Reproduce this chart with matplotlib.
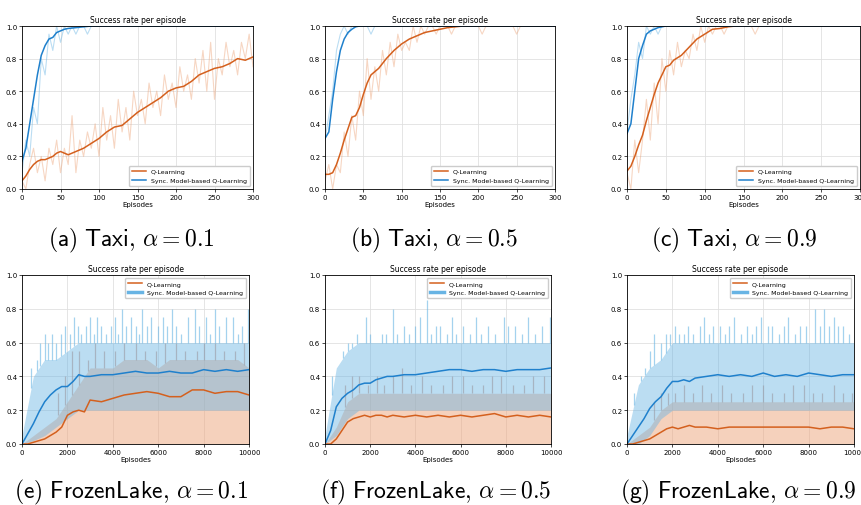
import matplotlib.pyplot as plt
import numpy as np

plt.rcParams['font.family'] = 'DejaVu Sans'
plt.rcParams['mathtext.fontset'] = 'cm'

# ---- Taxi data (episodes 0..300) ----
taxi_ep = [0, 5, 10, 15, 20, 25, 30, 35, 40, 45, 50, 55, 60, 70, 80, 90, 100, 110, 120, 130, 140,
           150, 160, 170, 180, 190, 200, 210, 220, 230, 240, 250, 260, 270, 280, 290, 300]
q_a = [0.05, 0.08, 0.12, 0.15, 0.17, 0.18, 0.18, 0.19, 0.20, 0.22, 0.23, 0.22, 0.21, 0.23, 0.25,
       0.28, 0.31, 0.35, 0.38, 0.39, 0.43, 0.47, 0.50, 0.53, 0.56, 0.60, 0.62, 0.63, 0.66, 0.70,
       0.72, 0.74, 0.75, 0.77, 0.80, 0.79, 0.81]
s_a = [0.17, 0.25, 0.40, 0.55, 0.70, 0.82, 0.88, 0.92, 0.93, 0.96, 0.97, 0.98, 0.985, 0.99, 0.995,
       1.0, 1.0, 1.0, 1.0, 1.0, 1.0, 1.0, 1.0, 1.0, 1.0, 1.0, 1.0, 1.0, 1.0, 1.0, 1.0, 1.0, 1.0,
       1.0, 1.0, 1.0, 1.0]
q_b = [0.09, 0.09, 0.10, 0.15, 0.22, 0.30, 0.37, 0.44, 0.45, 0.50, 0.58, 0.65, 0.70, 0.74, 0.80,
       0.85, 0.89, 0.92, 0.94, 0.96, 0.97, 0.98, 0.99, 0.995, 1.0, 1.0, 1.0, 1.0, 1.0, 1.0, 1.0,
       1.0, 1.0, 1.0, 1.0, 1.0, 1.0]
s_b = [0.31, 0.35, 0.55, 0.72, 0.85, 0.92, 0.96, 0.98, 0.995, 1.0, 1.0, 1.0, 1.0, 1.0, 1.0, 1.0,
       1.0, 1.0, 1.0, 1.0, 1.0, 1.0, 1.0, 1.0, 1.0, 1.0, 1.0, 1.0, 1.0, 1.0, 1.0, 1.0, 1.0, 1.0,
       1.0, 1.0, 1.0]
q_c = [0.11, 0.14, 0.20, 0.27, 0.33, 0.42, 0.50, 0.58, 0.65, 0.70, 0.75, 0.76, 0.79, 0.82, 0.87,
       0.92, 0.95, 0.98, 0.985, 0.995, 1.0, 1.0, 1.0, 1.0, 1.0, 1.0, 1.0, 1.0, 1.0, 1.0, 1.0, 1.0,
       1.0, 1.0, 1.0, 1.0, 1.0]
s_c = [0.34, 0.40, 0.60, 0.80, 0.88, 0.95, 0.97, 0.98, 0.99, 0.995, 1.0, 1.0, 1.0, 1.0, 1.0, 1.0,
       1.0, 1.0, 1.0, 1.0, 1.0, 1.0, 1.0, 1.0, 1.0, 1.0, 1.0, 1.0, 1.0, 1.0, 1.0, 1.0, 1.0, 1.0,
       1.0, 1.0, 1.0]

# raw (unsmoothed) rates, one value every 5 episodes
q_raw_a = [0.05, 0.0, 0.15, 0.25, 0.1, 0.2, 0.05, 0.25, 0.15, 0.3, 0.1, 0.25, 0.15, 0.45, 0.1, 0.3,
           0.2, 0.35, 0.25, 0.4, 0.2, 0.5, 0.3, 0.45, 0.25, 0.55, 0.35, 0.5, 0.3, 0.6, 0.45, 0.55,
           0.4, 0.65, 0.5, 0.6, 0.45, 0.7, 0.55, 0.65, 0.5, 0.75, 0.6, 0.7, 0.55, 0.8, 0.65, 0.85,
           0.6, 0.9, 0.55, 0.8, 0.7, 0.9, 0.75, 0.85, 0.7, 0.9, 0.8, 0.95, 0.75]
s_raw_a = [0.1, 0.3, 0.2, 0.5, 0.4, 0.8, 0.7, 0.95, 0.85, 1.0, 0.9, 1.0, 0.95, 1.0, 0.95, 1.0,
           1.0, 0.95, 1.0, 1.0] + [1.0] * 41
q_raw_b = [0.05, 0.15, 0.0, 0.15, 0.1, 0.35, 0.2, 0.45, 0.3, 0.6, 0.45, 0.8, 0.55, 0.75, 0.6, 0.85,
           0.7, 0.9, 0.75, 0.95, 0.85, 0.9, 0.85, 1.0, 0.9, 1.0, 0.95, 1.0, 1.0, 0.95, 1.0, 1.0,
           1.0, 0.95, 1.0, 1.0, 1.0, 1.0, 1.0, 1.0, 1.0, 0.95, 1.0, 1.0, 1.0, 1.0, 1.0, 1.0,
           1.0, 1.0, 0.95, 1.0, 1.0, 1.0, 1.0, 1.0, 1.0, 1.0, 1.0, 1.0, 1.0]
s_raw_b = [0.3, 0.45, 0.6, 0.85, 0.95, 1.0, 0.95, 1.0, 1.0, 1.0, 1.0, 1.0, 0.95] + [1.0] * 48
q_raw_c = [0.1, 0.0, 0.3, 0.1, 0.3, 0.55, 0.3, 0.65, 0.4, 0.8, 0.6, 0.85, 0.7, 0.9, 0.75, 0.85,
           0.8, 0.95, 0.85, 1.0, 0.9, 1.0, 0.95, 1.0, 1.0, 0.95, 1.0, 1.0, 1.0, 1.0, 1.0, 1.0,
           1.0, 0.95] + [1.0] * 27
s_raw_c = [0.35, 0.55, 0.7, 0.9, 0.8, 1.0, 0.95, 1.0, 0.95, 1.0, 1.0, 1.0] + [1.0] * 49

# ---- FrozenLake data (episodes 0..10000) ----
fl_ep = [0, 250, 500, 750, 1000, 1250, 1500, 1750, 2000, 2250, 2500, 2750, 3000, 3500, 4000,
         4500, 5000, 5500, 6000, 6500, 7000, 7500, 8000, 8500, 9000, 9500, 10000]
q_e = [0.0, 0.0, 0.01, 0.02, 0.03, 0.05, 0.07, 0.10, 0.17, 0.19, 0.20, 0.19, 0.26, 0.25, 0.27,
       0.29, 0.30, 0.31, 0.30, 0.28, 0.28, 0.32, 0.32, 0.30, 0.31, 0.31, 0.29]
s_e = [0.0, 0.06, 0.12, 0.19, 0.25, 0.29, 0.32, 0.34, 0.34, 0.37, 0.41, 0.40, 0.40, 0.41, 0.41,
       0.42, 0.43, 0.42, 0.42, 0.43, 0.42, 0.42, 0.44, 0.43, 0.44, 0.43, 0.44]
q_f = [0.0, 0.0, 0.03, 0.08, 0.13, 0.15, 0.16, 0.17, 0.16, 0.17, 0.17, 0.16, 0.17, 0.16, 0.17,
       0.16, 0.17, 0.16, 0.17, 0.16, 0.17, 0.18, 0.16, 0.17, 0.16, 0.17, 0.16]
s_f = [0.0, 0.08, 0.22, 0.27, 0.30, 0.32, 0.35, 0.36, 0.36, 0.38, 0.39, 0.40, 0.40, 0.41, 0.41,
       0.42, 0.43, 0.44, 0.44, 0.43, 0.44, 0.44, 0.43, 0.44, 0.44, 0.44, 0.45]
q_g = [0.0, 0.0, 0.01, 0.02, 0.03, 0.05, 0.07, 0.09, 0.10, 0.09, 0.10, 0.11, 0.10, 0.10, 0.09,
       0.10, 0.10, 0.10, 0.10, 0.10, 0.10, 0.10, 0.10, 0.09, 0.10, 0.10, 0.09]
s_g = [0.0, 0.05, 0.10, 0.15, 0.21, 0.25, 0.28, 0.33, 0.37, 0.37, 0.38, 0.37, 0.39, 0.40, 0.41,
       0.40, 0.41, 0.40, 0.42, 0.40, 0.41, 0.40, 0.42, 0.41, 0.40, 0.41, 0.41]

# dense spread of the noisy per-episode rates, one value every 500 episodes
s_lo_e = [0.0, 0.02, 0.05, 0.1, 0.15, 0.2, 0.2, 0.2, 0.2, 0.2, 0.2, 0.2, 0.2, 0.2, 0.2, 0.2,
          0.2, 0.2, 0.2, 0.2, 0.2]
s_hi_e = [0.05, 0.4, 0.5, 0.5, 0.55, 0.6, 0.6, 0.6, 0.6, 0.6, 0.6, 0.6, 0.6, 0.6, 0.6, 0.6,
          0.6, 0.6, 0.6, 0.6, 0.6]
q_hi_e = [0.0, 0.05, 0.1, 0.15, 0.25, 0.35, 0.45, 0.45, 0.45, 0.5, 0.5, 0.5, 0.45, 0.5, 0.5,
          0.5, 0.5, 0.5, 0.5, 0.5, 0.45]
s_lo_f = [0.0, 0.05, 0.15, 0.2, 0.2, 0.2, 0.2, 0.2, 0.2, 0.2, 0.2, 0.2, 0.2, 0.2, 0.2, 0.2,
          0.2, 0.2, 0.2, 0.2, 0.2]
s_hi_f = [0.05, 0.45, 0.55, 0.6, 0.6, 0.6, 0.6, 0.6, 0.6, 0.6, 0.6, 0.6, 0.6, 0.6, 0.6, 0.6,
          0.6, 0.6, 0.6, 0.6, 0.6]
q_hi_f = [0.0, 0.1, 0.25, 0.3, 0.3, 0.3, 0.3, 0.3, 0.3, 0.3, 0.3, 0.3, 0.3, 0.3, 0.3, 0.3,
          0.3, 0.3, 0.3, 0.3, 0.3]
s_lo_g = [0.0, 0.0, 0.05, 0.15, 0.2, 0.2, 0.2, 0.2, 0.2, 0.2, 0.2, 0.2, 0.2, 0.2, 0.2, 0.2,
          0.2, 0.2, 0.2, 0.2, 0.2]
s_hi_g = [0.05, 0.35, 0.45, 0.5, 0.6, 0.6, 0.6, 0.6, 0.6, 0.6, 0.6, 0.6, 0.6, 0.6, 0.6, 0.6,
          0.6, 0.6, 0.6, 0.6, 0.6]
q_hi_g = [0.0, 0.05, 0.1, 0.2, 0.25, 0.25, 0.25, 0.25, 0.25, 0.25, 0.25, 0.25, 0.25, 0.25, 0.25,
          0.25, 0.25, 0.25, 0.25, 0.25, 0.25]

# isolated peaks above the dense spread: (episode, peak)
s_spk_e = [(400, 0.45), (650, 0.5), (800, 0.6), (1000, 0.65), (1150, 0.6), (1300, 0.65),
           (1500, 0.6), (1700, 0.65), (1900, 0.7), (2100, 0.65), (2300, 0.75), (2450, 0.7),
           (2600, 0.65), (2800, 0.7), (3000, 0.75), (3150, 0.65), (3300, 0.75), (3500, 0.7),
           (3700, 0.65), (3900, 0.7), (4100, 0.75), (4250, 0.65), (4400, 0.8), (4600, 0.7),
           (4800, 0.75), (5000, 0.7), (5150, 0.65), (5300, 0.8), (5500, 0.7), (5700, 0.75),
           (6000, 0.7), (6200, 0.75), (6400, 0.7), (6600, 0.8), (6800, 0.7), (7000, 0.65),
           (7300, 0.75), (7600, 0.8), (7800, 0.7), (8100, 0.75), (8300, 0.65), (8500, 0.8),
           (8700, 0.7), (9000, 0.75), (9300, 0.75), (9500, 0.65), (9700, 0.7), (9950, 0.8)]
q_spk_e = [(1600, 0.3), (1900, 0.4), (2200, 0.55), (2500, 0.55), (2900, 0.5), (3200, 0.6),
           (3600, 0.55), (4100, 0.55), (4500, 0.6), (5000, 0.6), (5400, 0.55), (5900, 0.55),
           (6300, 0.6), (6800, 0.6), (7200, 0.55), (7700, 0.55), (8000, 0.6), (8500, 0.6),
           (8900, 0.55), (9400, 0.55), (9800, 0.6)]
s_spk_f = [(300, 0.4), (500, 0.45), (800, 0.55), (1000, 0.6), (1200, 0.6), (1400, 0.65),
           (1600, 0.6), (1800, 0.75), (2000, 0.65), (2200, 0.6), (2500, 0.65), (2700, 0.65),
           (3000, 0.8), (3200, 0.65), (3500, 0.7), (3700, 0.65), (4000, 0.7), (4200, 0.75),
           (4500, 0.85), (4700, 0.65), (4900, 0.7), (5100, 0.7), (5400, 0.65), (5600, 0.75),
           (5800, 0.65), (6100, 0.7), (6400, 0.65), (6700, 0.75), (6900, 0.65), (7200, 0.7),
           (7500, 0.65), (7900, 0.75), (8100, 0.7), (8400, 0.7), (8700, 0.65), (9000, 0.75),
           (9300, 0.65), (9600, 0.7), (9950, 0.75)]
q_spk_f = [(900, 0.35), (1200, 0.4), (1500, 0.4), (1900, 0.35), (2300, 0.4), (2600, 0.35),
           (3000, 0.4), (3400, 0.45), (3800, 0.35), (4300, 0.4), (4700, 0.35), (5200, 0.35),
           (5600, 0.4), (6100, 0.4), (6500, 0.35), (7000, 0.35), (7400, 0.4), (7800, 0.4),
           (8300, 0.35), (8800, 0.35), (9200, 0.4), (9700, 0.4)]
s_spk_g = [(300, 0.3), (600, 0.4), (800, 0.45), (1000, 0.55), (1200, 0.65), (1500, 0.6),
           (1700, 0.65), (1900, 0.65), (2100, 0.7), (2300, 0.65), (2500, 0.65), (2700, 0.7),
           (2900, 0.65), (3200, 0.7), (3400, 0.75), (3600, 0.65), (3800, 0.7), (4100, 0.7),
           (4300, 0.65), (4500, 0.7), (4700, 0.75), (5000, 0.65), (5300, 0.7), (5500, 0.65),
           (5700, 0.7), (5900, 0.75), (6200, 0.7), (6400, 0.7), (6700, 0.65), (6900, 0.7),
           (7100, 0.75), (7400, 0.65), (7600, 0.7), (7900, 0.7), (8300, 0.8), (8500, 0.7),
           (8700, 0.8), (8900, 0.7), (9100, 0.75), (9300, 0.7), (9500, 0.7), (9800, 0.65)]
q_spk_g = [(1200, 0.25), (1500, 0.3), (1800, 0.3), (2100, 0.3), (2500, 0.35), (2900, 0.3),
           (3300, 0.35), (3700, 0.3), (4200, 0.35), (4600, 0.3), (5100, 0.3), (5500, 0.35),
           (6000, 0.35), (6400, 0.3), (6900, 0.3), (7300, 0.35), (7800, 0.35), (8200, 0.3),
           (8600, 0.3), (9100, 0.35), (9500, 0.3), (9900, 0.3)]

captions_top = [r"$\mathsf{(a)\ Taxi,}\,\alpha = 0.1$", r"$\mathsf{(b)\ Taxi,}\,\alpha = 0.5$",
                r"$\mathsf{(c)\ Taxi,}\,\alpha = 0.9$"]
captions_bot = [r"$\mathsf{(e)\ FrozenLake,}\,\alpha = 0.1$", r"$\mathsf{(f)\ FrozenLake,}\,\alpha = 0.5$",
                r"$\mathsf{(g)\ FrozenLake,}\,\alpha = 0.9$"]

ORANGE = '#d4601e'
BLUE = '#1f80cc'
ORANGE_L = '#eda57a'
BLUE_L = '#68b4e4'

W, H = 861, 506
fig = plt.figure(figsize=(W / 100, H / 100), dpi=100)


def px_axes(left, top, right, bottom):
    return fig.add_axes([left / W, 1 - bottom / H, (right - left) / W, (bottom - top) / H])


def style(ax, xmax, xticks):
    ax.set_xlim(0, xmax)
    ax.set_ylim(0, 1.0)
    ax.set_xticks(xticks)
    ax.set_yticks(np.arange(0, 1.01, 0.2))
    ax.yaxis.set_major_formatter(plt.FormatStrFormatter('%.1f'))
    ax.tick_params(labelsize=5, length=2, width=0.5, pad=1.5)
    ax.grid(True, color='#e0e0e0', linewidth=0.6)
    ax.set_axisbelow(True)
    for sp in ax.spines.values():
        sp.set_linewidth(0.6)
    ax.set_title("Success rate per episode", fontsize=5.5, pad=3)
    ax.set_xlabel("Episodes", fontsize=5, labelpad=1)


taxi_lefts = [22, 325, 627]
taxi_rights = [253, 555, 860]
taxi_sets = [(q_a, s_a, q_raw_a, s_raw_a), (q_b, s_b, q_raw_b, s_raw_b), (q_c, s_c, q_raw_c, s_raw_c)]
cap_top_x = [131, 434, 734]
for i, (q, s, qr, sr) in enumerate(taxi_sets):
    ax = px_axes(taxi_lefts[i], 27, taxi_rights[i], 190)
    xr = np.linspace(0, 300, len(qr))
    ax.plot(xr, qr, color=ORANGE_L, alpha=0.45, linewidth=0.8)
    ax.plot(xr, sr, color=BLUE_L, alpha=0.45, linewidth=0.8)
    ax.plot(taxi_ep, q, color=ORANGE, linewidth=1.1, label='Q-Learning')
    ax.plot(taxi_ep, s, color=BLUE, linewidth=1.1, label='Sync. Model-based Q-Learning')
    style(ax, 300, [0, 50, 100, 150, 200, 250, 300])
    ax.legend(loc='lower right', fontsize=4.5, framealpha=1, edgecolor='#cccccc',
              handlelength=2.2, borderpad=0.5)
    fig.text(cap_top_x[i] / W, 1 - 240 / H, captions_top[i], fontsize=17, ha='center', va='center')

fl_lefts = [22, 325, 627]
fl_rights = [249, 551, 854]
fl_sets = [(q_e, s_e, q_hi_e, s_lo_e, s_hi_e, q_spk_e, s_spk_e),
           (q_f, s_f, q_hi_f, s_lo_f, s_hi_f, q_spk_f, s_spk_f),
           (q_g, s_g, q_hi_g, s_lo_g, s_hi_g, q_spk_g, s_spk_g)]
cap_bot_x = [131, 436, 738]
for i, (q, s, qh, sl, sh, qspk, sspk) in enumerate(fl_sets):
    ax = px_axes(fl_lefts[i], 276, fl_rights[i], 445)
    xr = np.linspace(0, 10000, len(qh))
    ax.fill_between(xr, 0, qh, color=ORANGE_L, alpha=0.5, linewidth=0)
    ax.fill_between(xr, sl, sh, color=BLUE_L, alpha=0.45, linewidth=0)
    qx, qy = zip(*qspk)
    ax.vlines(qx, np.interp(qx, xr, qh), qy, color='#9a9aa2', alpha=0.6, linewidth=0.9)
    sx, sy = zip(*sspk)
    ax.vlines(sx, np.interp(sx, xr, sh), sy, color=BLUE_L, alpha=0.6, linewidth=0.9)
    ax.plot(fl_ep, q, color=ORANGE, linewidth=1.1, label='Q-Learning')
    ax.plot(fl_ep, s, color=BLUE, linewidth=1.1)
    ax.plot([], [], color=BLUE_L, linewidth=2.5, label='Sync. Model-based Q-Learning')
    style(ax, 10000, [0, 2000, 4000, 6000, 8000, 10000])
    ax.legend(loc='upper right', fontsize=4.5, framealpha=1, edgecolor='#cccccc',
              handlelength=2.2, borderpad=0.5)
    fig.text(cap_bot_x[i] / W, 1 - 492 / H, captions_bot[i], fontsize=17, ha='center', va='center')

fig.savefig('out.png', dpi=100)
